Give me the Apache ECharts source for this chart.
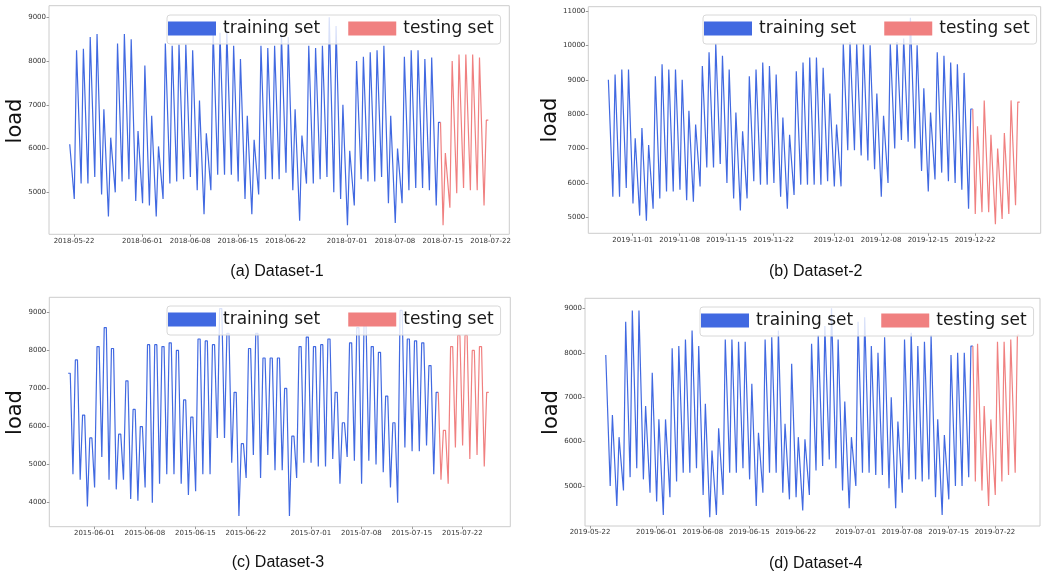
<!DOCTYPE html>
<html><head><meta charset="utf-8">
<script src="https://cdn.jsdelivr.net/npm/echarts@6/dist/echarts.min.js"></script>
<style>html,body{margin:0;padding:0;background:#fff}#c{width:1048px;height:578px}</style>
</head><body><div id="c"></div><script>
// ---------- data (daily night minimum "lo" and daytime peak level "hi") ----------
const d1Start = '2018-05-21';
const d1Lo = [null, 4850,5200,5200,5350,4950,4450, 5000,5250,5300,4800,4750,4700,4450, 4850,5200,5250,5300,5350,5050,4500, 5050,5400,5400,5400,5250,4850,4500, 4950,5300,5300,5300,5450,5050,4350, 5200,5200,5300,5350,5000,4850,4250, 4700,5300,5250,5250,5350,4750,4300, 4750,5050,5100,5100,5050,4700,4250, 4650,4980,5100,5050,5050,4700];
const d1Hi = [6100, 8250,8280,8550,8620,6900,6250, 8400,8620,8500,6400,7900,6750,6050, 8400,8350,8380,8380,8250,7100,6350, 8700,8650,8700,8350,8050,6750,6200, 8350,8300,8350,8600,8550,6900,6300, 8350,8300,8350,9000,8800,7000,5950, 8000,8100,8200,8250,8350,6750,6000, 8100,8250,8250,8050,8080,6600,5900, 8000,8150,8150,8150,8080,6650];
const d1Split = 54;
const d1Ticks = ['2018-05-22','2018-06-01','2018-06-08','2018-06-15','2018-06-22','2018-07-01','2018-07-08','2018-07-15','2018-07-22'];
const d1YTicks = [5000,6000,7000,8000,9000];

const d2Start = '2019-10-28';
const d2Lo = [null, 5600,5600,5850,5400,5050,4900, 5250,5550,5750,5750,5800,5500,5450, 5900,6450,6450,6550,6000,5550,5200, 5550,6050,5950,5950,6000,5600,5250, 5650,5950,5950,5950,5950,6050,5900, 5900,6950,6950,6800,6650,6400,5600, 6000,7000,7250,7200,7000,6350,5750, 6100,6300,6050,6000,5800,5250,5100, 5150,5150,4800,4950,5100,5350];
const d2Hi = [9000, 9150,9300,9300,7300,7600,7100, 9100,9450,9300,9300,9000,8100,7700, 9400,9800,10050,9700,9300,8050,7500, 9100,9300,9500,9400,9150,7900,7400, 9250,9500,9650,9650,9350,8600,7700, 10050,10100,10050,10050,10000,8600,7950, 10050,10100,10200,10800,10000,8750,8050, 9800,9700,9500,9450,9200,8150,7650, 8400,7400,7000,7450,8400,8350];
const d2Split = 54;
const d2Ticks = ['2019-11-01','2019-11-08','2019-11-15','2019-11-22','2019-12-01','2019-12-08','2019-12-15','2019-12-22'];
const d2YTicks = [5000,6000,7000,8000,9000,10000,11000];

const d3Start = '2015-05-28';
const d3Lo = [null, 4750,4600,3900, 4400,5200,4600,4350,4600,4100,4050, 4400,4000,4500,4750,4750,4500,4200, 4300,4750,4750,5700,5700,5050,3650, 4650,5250,4650,5250,4850,4850,3650, 4650,5050,5050,4950,4950,5150,4500, 5200,5100,4500,5100,5000,4800,4400, 4000,5450,5350,5350,5500,4750,4600, 4500,5450,5500,5150,5250,4950];
const d3Hi = [7400, 7750,6300,5700, 8100,8600,8050,5800,7200,6450,6000, 8150,8150,8100,8200,8000,6700,6250, 8300,8250,8150,9100,8450,6900,5550, 8050,8450,7800,7800,7800,7000,5750, 8100,8350,8100,8150,8300,6900,6100, 8200,8600,8650,8100,7950,6800,6100, 9050,8300,8250,8200,7600,6900,5900, 8100,8400,8400,8000,8100,6900];
const d3Split = 51;
const d3Ticks = ['2015-06-01','2015-06-08','2015-06-15','2015-06-22','2015-07-01','2015-07-08','2015-07-15','2015-07-22'];
const d3YTicks = [4000,5000,6000,7000,8000,9000];

const d4Start = '2019-05-24';
const d4Lo = [null, 5000,4550, 4900,5200,5400,5150,4850,4650,4350, 4750,5100,5300,5300,5400,4800,4300, 4350,4800,5300,5300,5400,5150,4550, 4850,5300,5300,4850,4700,4750,4450, 4800,5350,5450,5600,5400,4900,4500, 5000,5300,5300,5250,5250,4950,4500, 4850,5150,5150,5100,5150,4750,4350, 4700,5000,5000,5200,5100,4900,4550, 4800,5100,5250,5300];
const d4Hi = [7950, 6600,6100, 8700,8950,8950,6800,7550,6500,6500, 8100,8150,8300,8500,8150,6850,5800, 6300,8300,8300,8250,8250,7300,6200, 8300,8350,8500,6400,7750,6100,6050, 8200,8400,8600,9000,8300,6900,6100, 8700,8800,8150,8000,8350,7000,6450, 8300,8450,8150,8250,8400,6500,6150, 7950,8000,8000,8150,8200,6800,6500, 8250,8250,8300,8400];
const d4Split = 55;
const d4Ticks = ['2019-05-22','2019-06-01','2019-06-08','2019-06-15','2019-06-22','2019-07-01','2019-07-08','2019-07-15','2019-07-22'];
const d4YTicks = [5000,6000,7000,8000,9000];

const captions = ['(a) Dataset-1','(b) Dataset-2','(c) Dataset-3','(d) Dataset-4'];
const seriesNames = ['training set','testing set'];

// ---------- helpers ----------
function dayNum(s){ const p = s.split('-').map(Number); return Date.UTC(p[0], p[1]-1, p[2]) / 864e5; }
function fmtDay(v){ return new Date(Math.round(v*864e5)).toISOString().slice(0,10); }
// each day: night minimum at 01:00, peak level held from 09:00 to 16:00
function build(start, lo, hi, split){
  const s0 = dayNum(start), train = [], test = [];
  for (let d = 0; d < hi.length; d++){
    const pts = [];
    if (lo[d] != null) pts.push([s0 + d + 1/24, lo[d]]);
    pts.push([s0 + d + 9/24, hi[d]]);
    pts.push([s0 + d + 16/24, hi[d]]);
    pts.forEach((p, j) => {
      const last = j === pts.length - 1;
      if (d < split) train.push(p);
      else if (d === split){ train.push(p); if (last) test.push(p); }
      else test.push(p);
    });
  }
  return [train, test];
}

const datasets = [
  {start:d1Start, lo:d1Lo, hi:d1Hi, split:d1Split, ticks:d1Ticks, yTicks:d1YTicks},
  {start:d2Start, lo:d2Lo, hi:d2Hi, split:d2Split, ticks:d2Ticks, yTicks:d2YTicks},
  {start:d3Start, lo:d3Lo, hi:d3Hi, split:d3Split, ticks:d3Ticks, yTicks:d3YTicks},
  {start:d4Start, lo:d4Lo, hi:d4Hi, split:d4Split, ticks:d4Ticks, yTicks:d4YTicks}
];

// ---------- layout (pixels) ----------
const layout = [
  {L:49,    T:5.7,   R:509.3,  B:234.3, xl:-3.66, xr:63.74, ymin:4041, ymax:9266, lg:[167,15],  load:[16,121],     cap:[277,272]},
  {L:588.3, T:6.7,   R:1040.7, B:233.3, xl:-6.615,xr:60.79, ymin:4535, ymax:11125,lg:[703,15],  load:[550.5,120],  cap:[815.7,272]},
  {L:49.3,  T:297.3, R:510.3,  B:526.7, xl:-6.236,xr:57.65, ymin:3369, ymax:9395, lg:[167,306], load:[16,412.5],   cap:[278,563]},
  {L:585,   T:298.3, R:1040,   B:526,   xl:-0.753,xr:67.78, ymin:4100, ymax:9226, lg:[700,307], load:[551.5,412.5],cap:[815.7,564]}
];

const colors = ['#4169E1', '#F08080'];
const grids = [], xAxes = [], yAxes = [], series = [], legends = [], graphics = [];

datasets.forEach((ds, i) => {
  const g = layout[i];
  const tickNums = ds.ticks.map(dayNum);
  const ref = tickNums[0];
  grids.push({left:g.L, top:g.T, width:g.R-g.L, height:g.B-g.T, show:true, borderColor:'#cccccc', borderWidth:1, backgroundColor:'transparent'});
  xAxes.push({
    type:'value', gridIndex:i, min: ref + g.xl, max: ref + g.xr,
    axisLine:{show:false}, splitLine:{show:false},
    axisTick:{show:true, customValues:tickNums, length:2.5, lineStyle:{color:'#999'}},
    axisLabel:{customValues:tickNums, formatter: v => fmtDay(v), fontSize:7, color:'#333', margin:3, fontFamily:'DejaVu Sans'}
  });
  yAxes.push({
    type:'value', gridIndex:i, min:g.ymin, max:g.ymax,
    axisLine:{show:false}, splitLine:{show:false},
    axisTick:{show:true, customValues:ds.yTicks, length:2.5, lineStyle:{color:'#999'}},
    axisLabel:{customValues:ds.yTicks, formatter: v => String(Math.round(v)), fontSize:7, color:'#333', margin:3, fontFamily:'DejaVu Sans'}
  });
  const parts = build(ds.start, ds.lo, ds.hi, ds.split);
  parts.forEach((pts, k) => {
    series.push({
      type:'line', name:seriesNames[k], xAxisIndex:i, yAxisIndex:i, data:pts,
      showSymbol:false, symbol:'none', color:colors[k],
      itemStyle:{color:colors[k]}, lineStyle:{color:colors[k], width:1.2}, z:2, silent:true
    });
  });
  legends.push({
    left:g.lg[0], top:g.lg[1], orient:'horizontal', icon:'rect',
    itemWidth:48, itemHeight:14, itemGap:28, padding:[5,7,7,1],
    backgroundColor:'rgba(255,255,255,0.8)', borderColor:'#d8d8d8', borderWidth:1, borderRadius:3,
    textStyle:{fontSize:17, fontFamily:'DejaVu Sans', color:'#1a1a1a', lineHeight:17, padding:[0,0,0,2]},
    itemStyle:{borderWidth:0},
    data: seriesNames.map((n,k)=>({name:n, itemStyle:{color:colors[k]}})),
    selectedMode:false
  });
  graphics.push({type:'text', x:g.load[0], y:g.load[1], rotation:Math.PI/2,
    style:{text:'load', font:'21px "DejaVu Sans"', fill:'#111', textAlign:'center', textVerticalAlign:'middle'}});
  graphics.push({type:'text', x:g.cap[0], y:g.cap[1],
    style:{text:captions[i], font:'16px "Liberation Sans"', fill:'#111', textAlign:'center', textVerticalAlign:'middle'}});
});

const chart = echarts.init(document.getElementById('c'), null, {renderer:'canvas'});
chart.setOption({
  animation:false, backgroundColor:'#fff',
  grid:grids, xAxis:xAxes, yAxis:yAxes, series:series, legend:legends, graphic:graphics
});
</script></body></html>
